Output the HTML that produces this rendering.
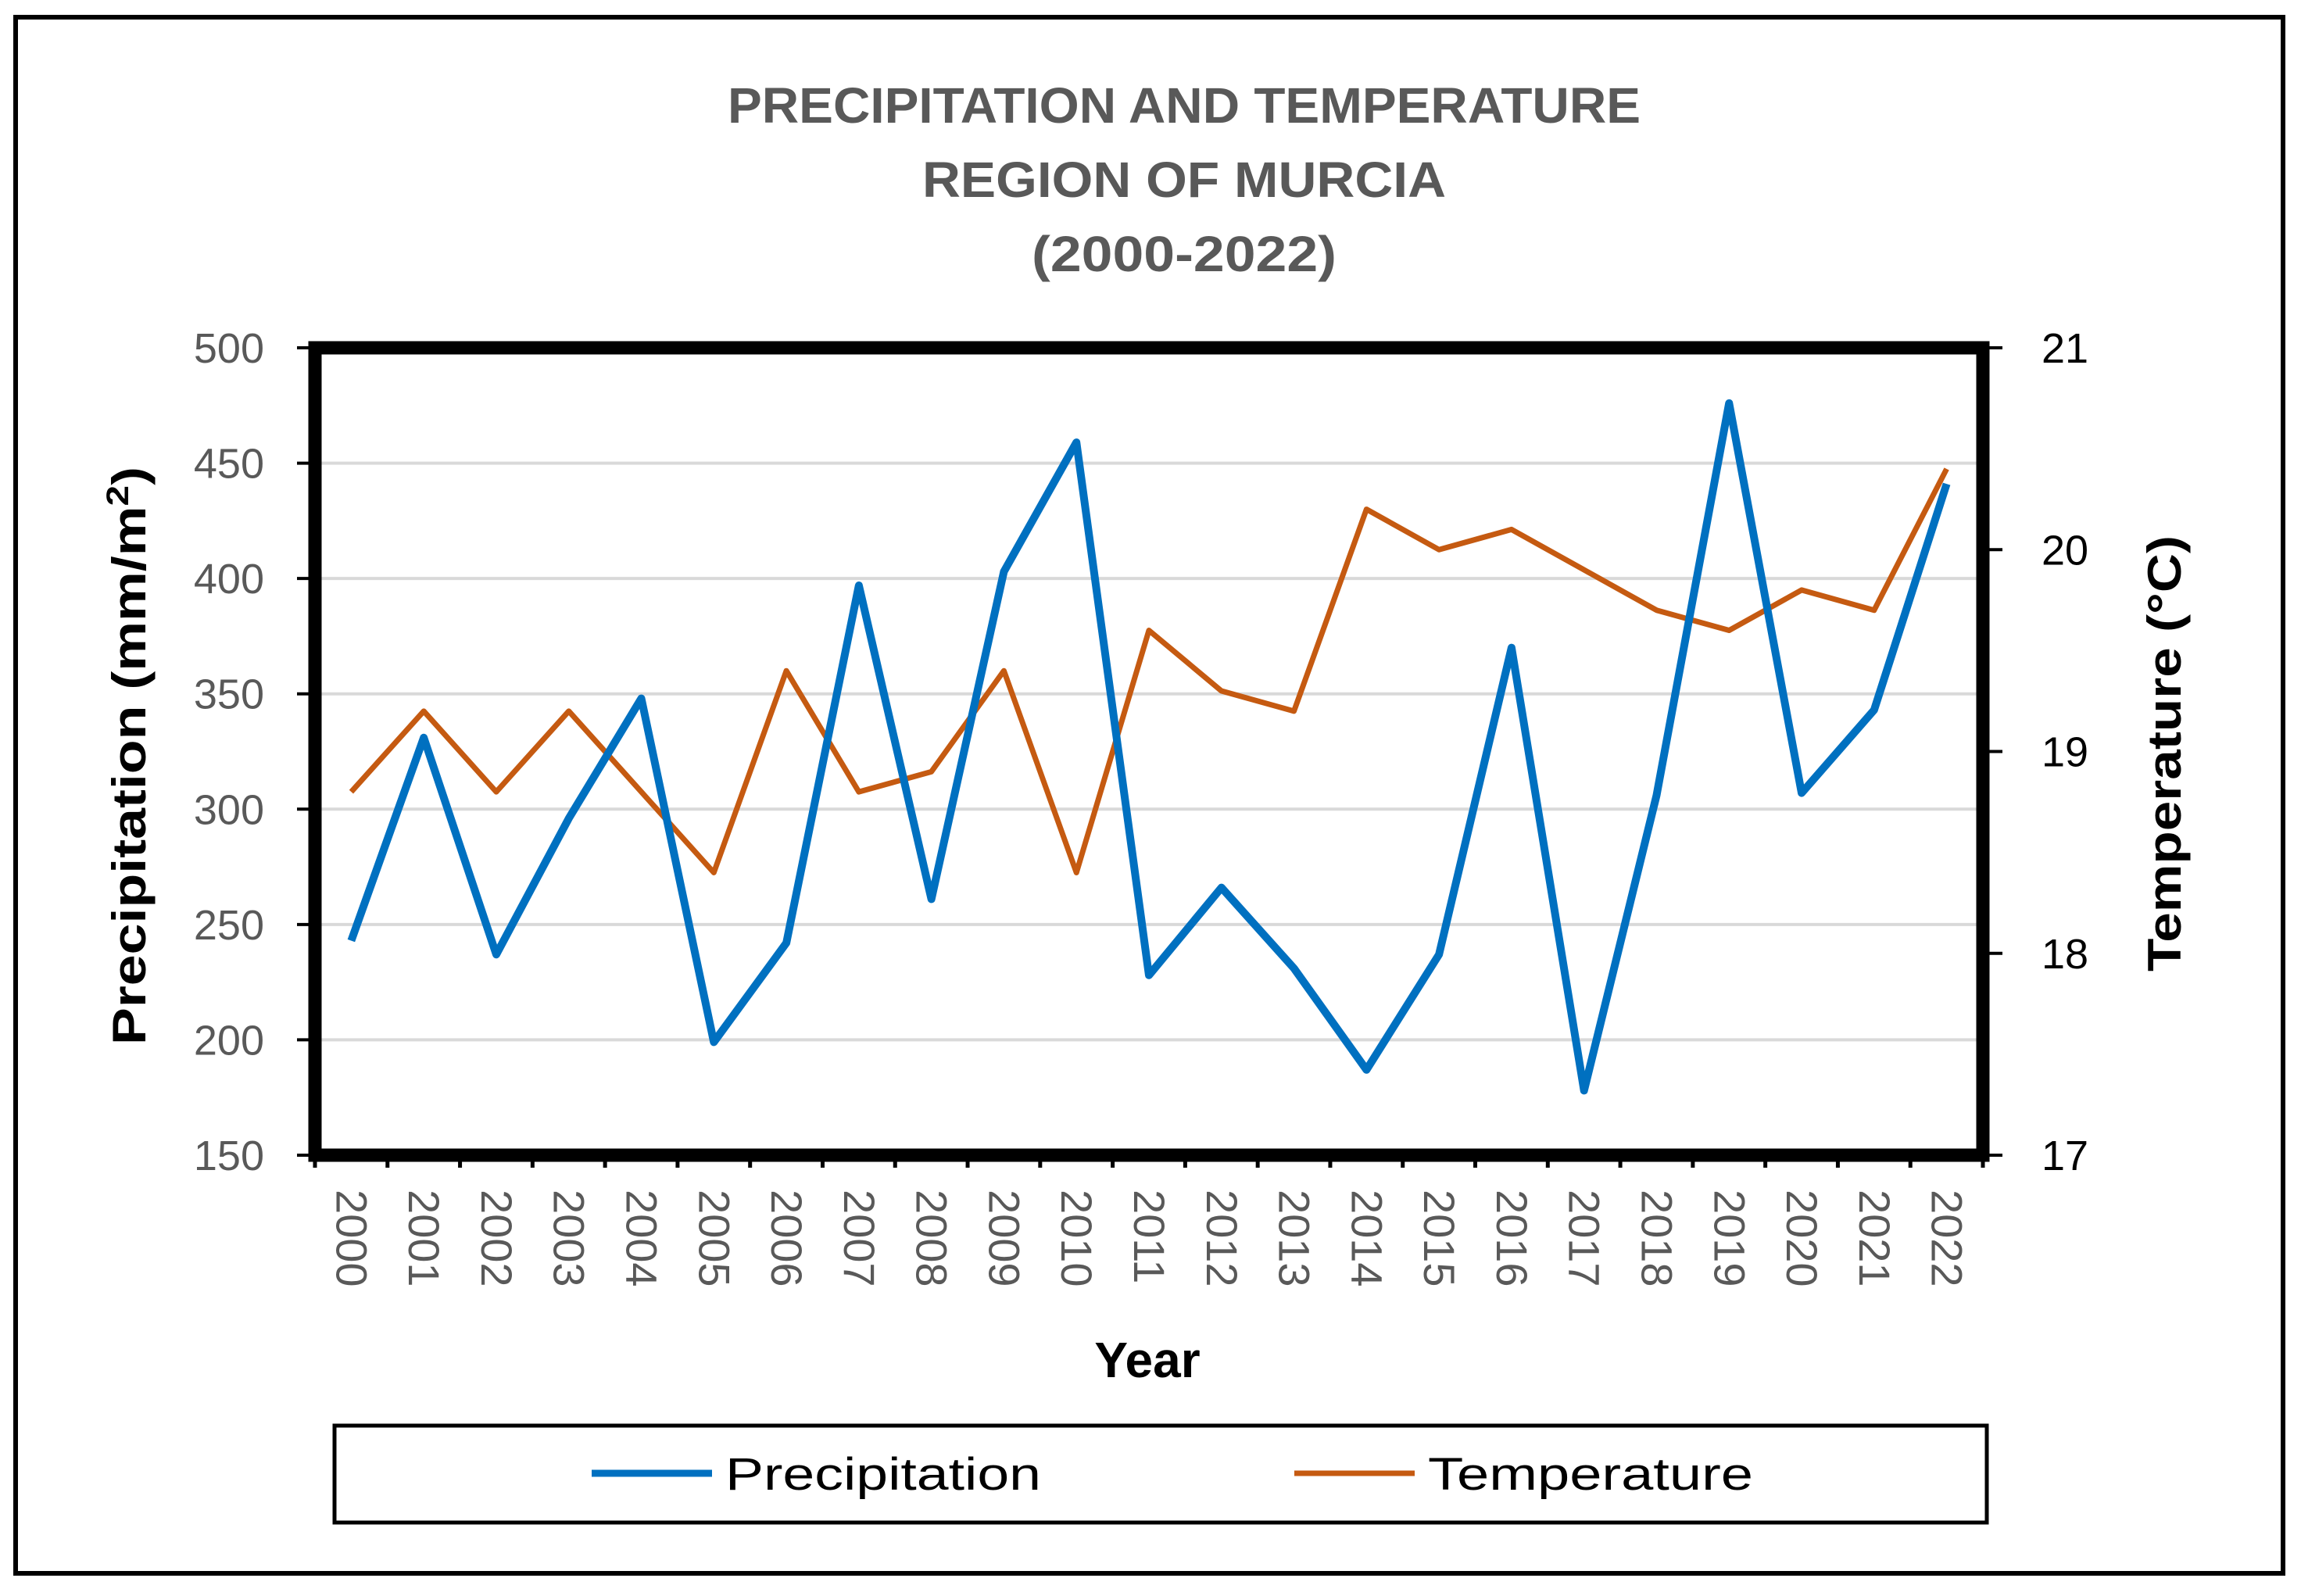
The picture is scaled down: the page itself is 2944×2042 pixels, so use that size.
<!DOCTYPE html>
<html><head><meta charset="utf-8"><style>
html,body{margin:0;padding:0;background:#fff}
svg{display:block}
text{font-family:"Liberation Sans",sans-serif}
</style></head><body>
<svg id="chart" width="2944" height="2042" viewBox="0 0 2944 2042" xmlns="http://www.w3.org/2000/svg">
<rect x="20" y="22" width="2901" height="1991" fill="#fff" stroke="#000" stroke-width="6"/>
<g fill="#595959" font-weight="bold" font-size="64" text-anchor="middle">
<text x="1515" y="157" textLength="1168" lengthAdjust="spacingAndGlyphs">PRECIPITATION AND TEMPERATURE</text>
<text x="1515" y="252" textLength="670" lengthAdjust="spacingAndGlyphs">REGION  OF MURCIA</text>
<text x="1515" y="347" textLength="390" lengthAdjust="spacingAndGlyphs">(2000-2022)</text>
</g>
<g id="grid"></g>
<g id="series"></g>
<rect x="403" y="445" width="2134" height="1033" fill="none" stroke="#000" stroke-width="17"/>
<g id="axes"></g>
<text transform="translate(186,967) rotate(-90)" text-anchor="middle" font-weight="bold" font-size="60" textLength="740" lengthAdjust="spacingAndGlyphs">Precipitation (mm/m<tspan font-size="40" dy="-22">2</tspan><tspan dy="22">)</tspan></text>
<text transform="translate(2790,964) rotate(-90)" text-anchor="middle" font-weight="bold" font-size="60" textLength="558" lengthAdjust="spacingAndGlyphs">Temperature (°C)</text>
<text x="1468" y="1762" text-anchor="middle" font-weight="bold" font-size="64">Year</text>
<g>
<rect x="428" y="1824" width="2114" height="124" fill="#fff" stroke="#000" stroke-width="5"/>
<line x1="757" y1="1885" x2="911" y2="1885" stroke="#0070C0" stroke-width="9"/>
<text x="928" y="1906" font-size="58" textLength="404" lengthAdjust="spacingAndGlyphs">Precipitation</text>
<line x1="1656" y1="1885" x2="1810" y2="1885" stroke="#C55A11" stroke-width="7"/>
<text x="1827" y="1906" font-size="58" textLength="416" lengthAdjust="spacingAndGlyphs">Temperature</text>
</g>
</svg>
<script>
const years = ["2000","2001","2002","2003","2004","2005","2006","2007","2008","2009","2010","2011","2012","2013","2014","2015","2016","2017","2018","2019","2020","2021","2022"];
const precipitation = [243,331,237,296,348,199,242,397,261,403,459,228,266,231,187,237,370,178,306,476,307,343,441];
const temperature = [18.8,19.2,18.8,19.2,18.8,18.4,19.4,18.8,18.9,19.4,18.4,19.6,19.3,19.2,20.2,20.0,20.1,19.9,19.7,19.6,19.8,19.7,20.4];
const leftTicks = [150,200,250,300,350,400,450,500];
const rightTicks = [17,18,19,20,21];

const NS="http://www.w3.org/2000/svg";
const X0=403,X1=2537,YT=445,YB=1478;
const band=(X1-X0)/years.length;
const xPos=i=>X0+band*(i+0.5);
const yL=v=>YB-(v-150)/(500-150)*(YB-YT);
const yR=v=>YB-(v-17)/(21-17)*(YB-YT);
function mk(tag,attrs,parent){const e=document.createElementNS(NS,tag);for(const k in attrs)e.setAttribute(k,attrs[k]);parent.appendChild(e);return e;}
const grid=document.getElementById('grid'),axes=document.getElementById('axes'),series=document.getElementById('series');

leftTicks.forEach(v=>{
  const y=yL(v);
  if(v>150&&v<500){const g=mk('line',{x1:X0,x2:X1,y1:y,y2:y,stroke:'#D9D9D9','stroke-width':4},grid);
  
  }
  const t=mk('line',{x1:380,x2:403,y1:y,y2:y,stroke:'#000','stroke-width':4},axes);
  
  
  const l=mk('text',{x:338,y:y+19,'text-anchor':'end','font-size':54,fill:'#595959'},axes);
  
  
  l.textContent=v;
});
rightTicks.forEach(v=>{
  const y=yR(v);
  const t=mk('line',{x1:2537,x2:2562,y1:y,y2:y,stroke:'#000','stroke-width':4},axes);
  
  
  const l=mk('text',{x:2612,y:y+19,'font-size':54,fill:'#000'},axes);
  
  
  l.textContent=v;
});
for(let i=0;i<=years.length;i++){
  const x=X0+band*i;
  const t=mk('line',{x1:x,x2:x,y1:YB,y2:1494,stroke:'#000','stroke-width':5},axes);
  
  
}
years.forEach((yr,i)=>{
  const x=xPos(i);
  const l=mk('text',{transform:`translate(${x-19},1522) rotate(90)`,'font-size':56,fill:'#595959'},axes);
  
  
  l.textContent=yr;
});
const tp=temperature.map((v,i)=>xPos(i)+','+yR(v)).join(' ');
const tl=mk('polyline',{points:tp,fill:'none',stroke:'#C55A11','stroke-width':7,'stroke-linejoin':'round'},series);


const pp=precipitation.map((v,i)=>xPos(i)+','+yL(v)).join(' ');
const pl=mk('polyline',{points:pp,fill:'none',stroke:'#0070C0','stroke-width':10,'stroke-linejoin':'round'},series);


</script>
</body></html>
